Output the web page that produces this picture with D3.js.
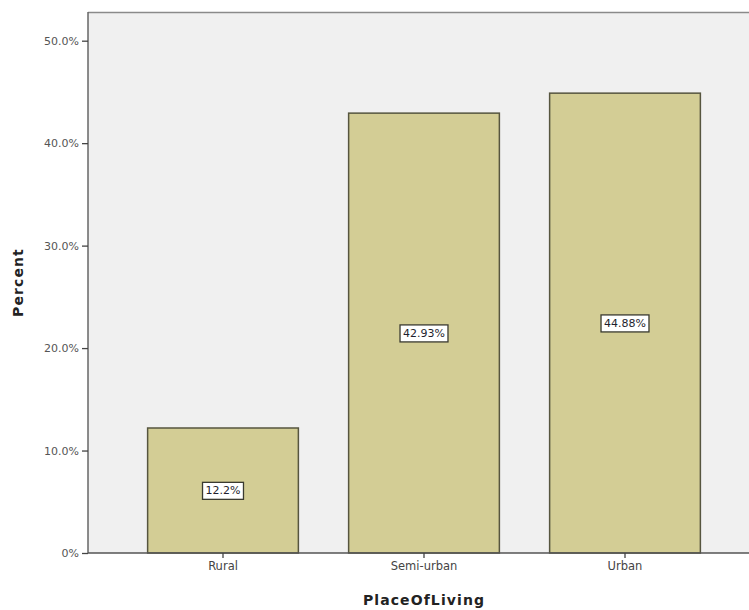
<!DOCTYPE html>
<html>
<head>
<meta charset="utf-8">
<script src="https://cdn.jsdelivr.net/npm/d3@7"></script>
<style>
  body { margin: 0; background: #ffffff; }
  svg { display: block; }
</style>
</head>
<body>
<svg id="chart" width="749" height="610"></svg>
<script>
const categories = ["Rural", "Semi-urban", "Urban"];
const percents = [12.2, 42.93, 44.88];
const valueLabels = ["12.2%", "42.93%", "44.88%"];
const yTicks = [0, 10, 20, 30, 40, 50];
const yTickLabels = ["0%", "10.0%", "20.0%", "30.0%", "40.0%", "50.0%"];
const xTitle = "PlaceOfLiving";
const yTitle = "Percent";

const svg = d3.select("#chart");
const plot = { left: 88, right: 749, top: 12, bottom: 553 };

const y = d3.scaleLinear().domain([0, 52.8]).range([plot.bottom, plot.top]);
const x = d3.scaleBand().domain(categories).range([122.5, 725.5])
  .paddingInner(0.25).paddingOuter(0.125);

// background
svg.append("rect")
  .attr("x", plot.left).attr("y", plot.top)
  .attr("width", plot.right - plot.left).attr("height", plot.bottom - plot.top)
  .attr("fill", "#f0f0f0");
svg.append("line")
  .attr("x1", plot.left).attr("x2", plot.right)
  .attr("y1", plot.top + 0.5).attr("y2", plot.top + 0.5)
  .attr("stroke", "#8a8a8a").attr("stroke-width", 1.5);

// bars
svg.append("g").selectAll("rect").data(categories).join("rect")
  .attr("x", d => x(d))
  .attr("y", (d, i) => y(percents[i]))
  .attr("width", x.bandwidth())
  .attr("height", (d, i) => y(0) - y(percents[i]))
  .attr("fill", "#d3cd95")
  .attr("stroke", "#56553f")
  .attr("stroke-width", 1.5);

// value labels
const lab = svg.append("g").selectAll("g").data(categories).join("g")
  .attr("transform", (d, i) => `translate(${x(d) + x.bandwidth() / 2},${(y(percents[i]) + y(0)) / 2})`);
lab.append("text")
  .attr("text-anchor", "middle").attr("dy", "0.35em")
  .attr("font-family", "DejaVu Sans, sans-serif").attr("font-size", 11)
  .attr("fill", "#1f1f2e")
  .text((d, i) => valueLabels[i]);
lab.each(function () {
  const g = d3.select(this);
  const bb = g.select("text").node().getBBox();
  g.insert("rect", "text")
    .attr("x", bb.x - 3).attr("y", bb.y - 2)
    .attr("width", bb.width + 6).attr("height", bb.height + 4)
    .attr("fill", "#ffffff").attr("stroke", "#3a3a30").attr("stroke-width", 1.3);
});

// y axis
const yAxis = d3.axisLeft(y).tickValues(yTicks)
  .tickFormat((d, i) => yTickLabels[i]).tickSize(6).tickPadding(3);
const gy = svg.append("g").attr("transform", `translate(${plot.left},0)`).call(yAxis);
gy.select(".domain").attr("stroke", "#666").attr("stroke-width", 1.5)
  .attr("d", `M0,${plot.bottom}V${plot.top}`);
gy.selectAll(".tick line").attr("stroke", "#444").attr("stroke-width", 1.3);
gy.selectAll(".tick text").attr("font-family", "DejaVu Sans, sans-serif")
  .attr("font-size", 11).attr("fill", "#555");

// x axis
const xAxis = d3.axisBottom(x).tickSize(5).tickPadding(4);
const gx = svg.append("g").attr("transform", `translate(0,${plot.bottom})`).call(xAxis);
gx.select(".domain").attr("stroke", "#555").attr("stroke-width", 1.5)
  .attr("d", `M${plot.left},0H${plot.right}`);
gx.selectAll(".tick line").attr("stroke", "#444").attr("stroke-width", 1.3);
gx.selectAll(".tick text").attr("font-family", "DejaVu Sans, sans-serif")
  .attr("font-size", 11.5).attr("fill", "#444");

// titles
svg.append("text")
  .attr("x", (x("Semi-urban") + x.bandwidth() / 2)).attr("y", 605)
  .attr("text-anchor", "middle")
  .attr("font-family", "DejaVu Sans, sans-serif").attr("font-weight", "bold")
  .attr("font-size", 14).attr("letter-spacing", 1.1).attr("fill", "#222")
  .text(xTitle);
svg.append("text")
  .attr("transform", `translate(23,${(plot.top + plot.bottom) / 2}) rotate(-90)`)
  .attr("text-anchor", "middle")
  .attr("font-family", "DejaVu Sans, sans-serif").attr("font-weight", "bold")
  .attr("font-size", 14).attr("letter-spacing", 1.1).attr("fill", "#222")
  .text(yTitle);
</script>
</body>
</html>
